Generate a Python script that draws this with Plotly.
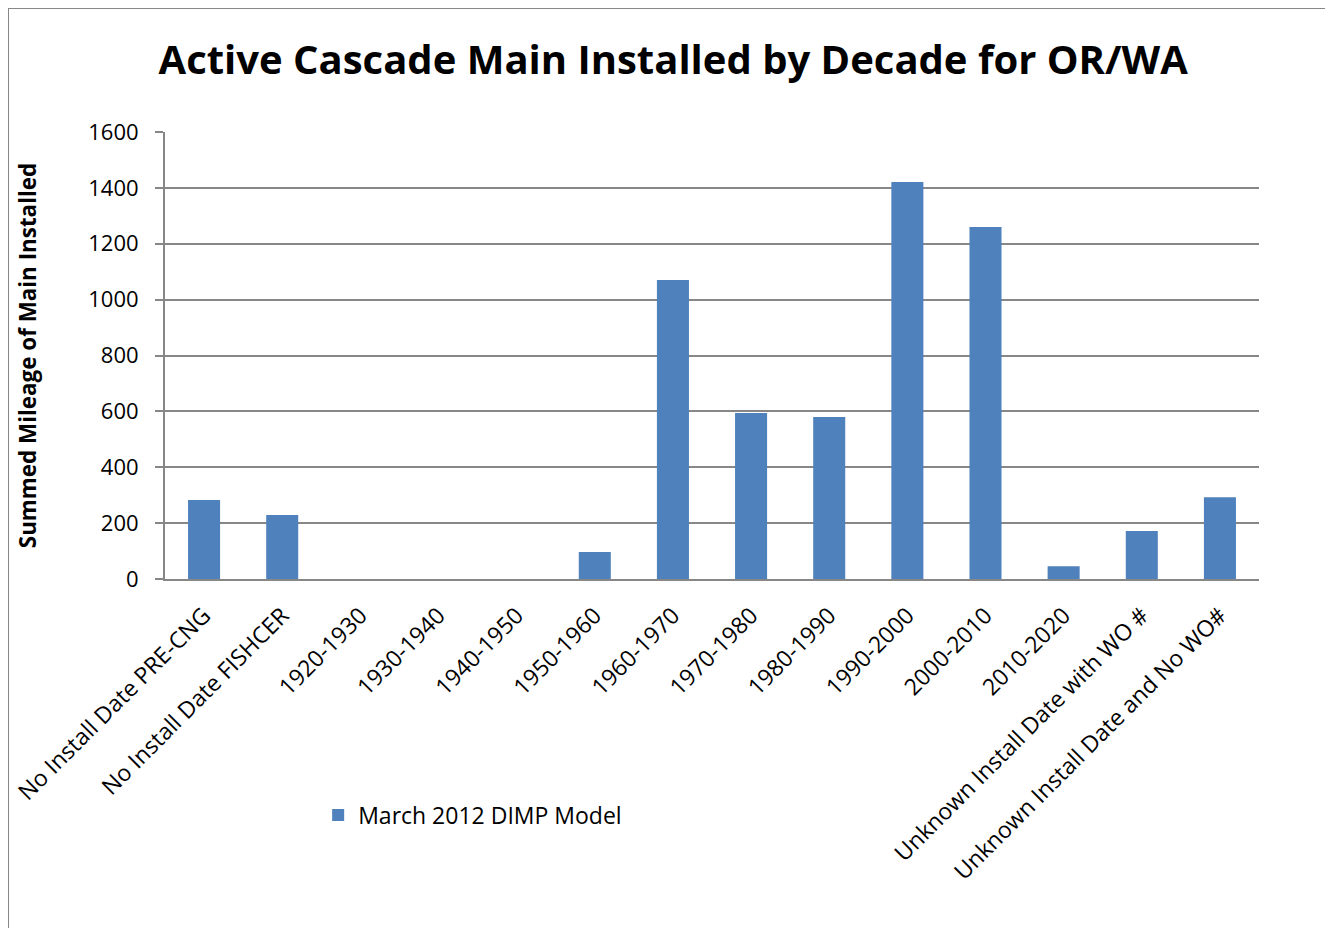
import plotly.graph_objects as go

categories = ["No Install Date PRE-CNG", "No Install Date FISHCER", "1920-1930", "1930-1940",
              "1940-1950", "1950-1960", "1960-1970", "1970-1980", "1980-1990", "1990-2000",
              "2000-2010", "2010-2020", "Unknown Install Date with WO #",
              "Unknown Install Date and No WO#"]
values = [283, 229, 0, 0, 0, 97, 1070, 594, 580, 1421, 1260, 46, 172, 293]
series_name = "March 2012 DIMP Model"
y_ticks = [0, 200, 400, 600, 800, 1000, 1200, 1400, 1600]

FONT = "Open Sans"
GRAY = "#878787"

L, T, PW, PH = 157, 124, 1094, 447

fig = go.Figure()
fig.add_trace(go.Bar(
    x=categories, y=values, name=series_name,
    marker=dict(color="#4F81BD", line=dict(color="#A9C0E0", width=0)),
    showlegend=True,
))

fig.update_layout(
    width=1333, height=928,
    margin=dict(l=L, r=1333 - L - PW, t=T, b=928 - T - PH, autoexpand=False),
    paper_bgcolor="white", plot_bgcolor="white",
    font=dict(family=FONT, size=22, color="black"),
    title=dict(text="<b>Active Cascade Main Installed by Decade for OR/WA</b>",
               x=0.499, xanchor="center", y=0.944, yanchor="middle",
               font=dict(family=FONT, size=40, color="black")),
    bargap=0.59,
    showlegend=True,
    legend=dict(x=0.140, y=-0.528, xanchor="left", yanchor="middle",
                orientation="h", font=dict(family=FONT, size=23),
                bgcolor="rgba(0,0,0,0)", itemwidth=30),
    xaxis=dict(type="category", tickangle=-45, showgrid=False, automargin=False,
               showline=True, linecolor=GRAY, linewidth=2,
               ticks="", ticklabelstandoff=12,
               tickfont=dict(family=FONT, size=23)),
    yaxis=dict(range=[0, 1600], tickvals=y_ticks, showgrid=True, automargin=False,
               gridcolor=GRAY, gridwidth=1.5, showline=True, linecolor=GRAY,
               linewidth=2, ticks="outside", ticklen=8, tickcolor=GRAY,
               tickwidth=1.5, zeroline=False, ticklabelstandoff=12,
               tickfont=dict(family=FONT, size=22),
               title=dict(text="<b>Summed Mileage of Main Installed</b>",
                          font=dict(family=FONT, size=22.4), standoff=45)),
    shapes=[dict(type="rect", xref="paper", yref="paper",
                 x0=(0 - L) / PW, x1=1.4, y0=-1.2, y1=(T + PH) / PH,
                 line=dict(color=GRAY, width=2), fillcolor="rgba(0,0,0,0)", layer="below")],
)

fig.write_html("out.html")
